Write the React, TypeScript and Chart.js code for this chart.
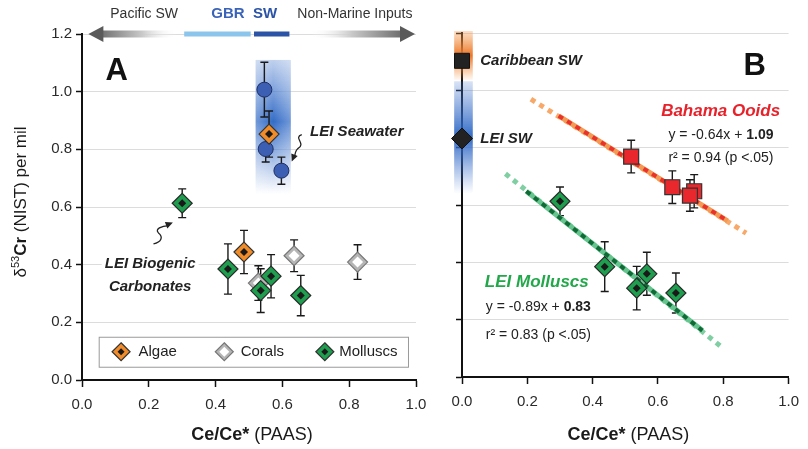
import React, { useEffect, useRef } from 'react';
import { Chart, registerables } from 'chart.js';

Chart.register(...registerables);

const FONT = '"Liberation Sans", Arial, Helvetica, sans-serif';
const W = 808;
const H = 449;

// ---------- axes ----------
const xMin = 0, xMax = 1.0, xStep = 0.2;
const yMin = 0, yMax = 1.2, yStep = 0.2;

// ---------- Panel A data ----------
const seawaterX = [0.546, 0.550, 0.597];
const seawaterY = [1.007, 0.801, 0.726];
const seawaterErr = [0.095, 0.045, 0.047];

const algaeX = [0.485, 0.560];
const algaeY = [0.444, 0.853];
const algaeErr = [0.075, 0.08];

const coralX = [0.528, 0.635, 0.825];
const coralY = [0.336, 0.431, 0.409];
const coralErr = [0.06, 0.055, 0.06];

const molluscX = [0.30, 0.437, 0.566, 0.535, 0.655];
const molluscY = [0.613, 0.385, 0.36, 0.31, 0.293];
const molluscErr = [0.05, 0.087, 0.075, 0.076, 0.07];

// top arrow bar (Ce/Ce* positions)
const pacificArrow = [0.019, 0.285];
const gbrRange = [0.306, 0.505];
const swRange = [0.515, 0.621];
const nonMarineArrow = [0.683, 0.997];
const seawaterBandX = [0.52, 0.625];
const seawaterBandY = [1.11, 0.645];

// ---------- Panel B data ----------
const caribX = [0.0];
const caribY = [1.103];
const leiSwX = [0.0];
const leiSwY = [0.832];

const ooidX = [0.518, 0.644, 0.711, 0.698];
const ooidY = [0.769, 0.662, 0.648, 0.633];
const ooidErr = [0.057, 0.057, 0.058, 0.055];

const ooidFitX = [0.211, 0.87];
const ooidFitY = [0.969, 0.502];
const ooidCoreX = [0.296, 0.813];
const ooidCoreY = [0.911, 0.545];

const mollFitX = [0.133, 0.80];
const mollFitY = [0.709, 0.10];
const mollCoreX = [0.197, 0.736];
const mollCoreY = [0.648, 0.162];

const caribBandY = [1.207, 1.035];
const leiSwBandY = [1.035, 0.639];
const bandBX = [-0.024, 0.033];

// ---------- helpers ----------
const pts = (xs: number[], ys: number[]) => xs.map((x, i) => ({ x, y: ys[i] }));

function marker(xs: number[], ys: number[], style: string, r: number, bg: string, border: string, bw: number, errors?: number[]) {
  return {
    type: 'scatter',
    data: pts(xs, ys),
    pointStyle: style,
    pointRadius: r,
    pointHoverRadius: r,
    backgroundColor: bg,
    pointBackgroundColor: bg,
    borderColor: border,
    pointBorderColor: border,
    pointBorderWidth: bw,
    borderWidth: bw,
    errors,
    clip: false,
  };
}

function lineDS(xs: number[], ys: number[], color: string, width: number, dash: number[]) {
  return {
    type: 'scatter',
    data: pts(xs, ys),
    showLine: true,
    pointRadius: 0,
    pointHoverRadius: 0,
    borderColor: color,
    borderWidth: width,
    borderDash: dash,
    borderCapStyle: 'butt',
    fill: false,
    clip: false,
  };
}

function withOrder(list: any[]) {
  return list.map((d, i) => ({ ...d, order: list.length - i }));
}

type Seg = { t: string; font: string; color?: string; dy?: number };
function drawSegs(ctx: CanvasRenderingContext2D, segs: Seg[], x: number, y: number, align: 'left' | 'center') {
  let total = 0;
  segs.forEach((s) => { ctx.font = s.font; total += ctx.measureText(s.t).width; });
  let cx = align === 'center' ? x - total / 2 : x;
  ctx.textBaseline = 'middle';
  ctx.textAlign = 'left';
  segs.forEach((s) => {
    ctx.font = s.font;
    ctx.fillStyle = s.color || '#222';
    ctx.fillText(s.t, cx, y + (s.dy || 0));
    cx += ctx.measureText(s.t).width;
  });
}

function drawDiamond(ctx: CanvasRenderingContext2D, x: number, y: number, r: number, fill: string, stroke: string | null, innerR: number, innerFill: string) {
  ctx.beginPath();
  ctx.moveTo(x, y - r); ctx.lineTo(x + r, y); ctx.lineTo(x, y + r); ctx.lineTo(x - r, y); ctx.closePath();
  ctx.fillStyle = fill; ctx.fill();
  if (stroke) { ctx.strokeStyle = stroke; ctx.lineWidth = 1.2; ctx.stroke(); }
  ctx.beginPath();
  ctx.moveTo(x, y - innerR); ctx.lineTo(x + innerR, y); ctx.lineTo(x, y + innerR); ctx.lineTo(x - innerR, y); ctx.closePath();
  ctx.fillStyle = innerFill; ctx.fill();
}

function arrowHead(ctx: CanvasRenderingContext2D, fx: number, fy: number, tx: number, ty: number, size: number) {
  const a = Math.atan2(ty - fy, tx - fx);
  ctx.beginPath();
  ctx.moveTo(tx, ty);
  ctx.lineTo(tx - size * Math.cos(a - 0.45), ty - size * Math.sin(a - 0.45));
  ctx.lineTo(tx - size * Math.cos(a + 0.45), ty - size * Math.sin(a + 0.45));
  ctx.closePath();
  ctx.fill();
}

function drawErrorBars(chart: any) {
  const ctx = chart.ctx;
  const xs = chart.scales.x, ys = chart.scales.y;
  ctx.save();
  ctx.strokeStyle = '#1a1a1a';
  ctx.lineWidth = 1.4;
  chart.data.datasets.forEach((ds: any) => {
    if (!ds.errors) return;
    ds.data.forEach((p: any, i: number) => {
      const e = ds.errors[i];
      if (!e) return;
      const x = xs.getPixelForValue(p.x);
      const y1 = ys.getPixelForValue(p.y + e);
      const y2 = ys.getPixelForValue(p.y - e);
      ctx.beginPath();
      ctx.moveTo(x, y1); ctx.lineTo(x, y2);
      ctx.moveTo(x - 4, y1); ctx.lineTo(x + 4, y1);
      ctx.moveTo(x - 4, y2); ctx.lineTo(x + 4, y2);
      ctx.stroke();
    });
  });
  ctx.restore();
}

function scales(yWidth: number, xHeight: number, showYLabels: boolean) {
  const tickFont = { family: FONT, size: 15 };
  return {
    x: {
      type: 'linear', min: xMin, max: xMax,
      afterFit: (s: any) => { s.height = xHeight; },
      ticks: { stepSize: xStep, callback: (v: any) => Number(v).toFixed(1), font: tickFont, color: '#2a2a2a', padding: 9, maxRotation: 0 },
      grid: { drawOnChartArea: false, drawTicks: true, tickLength: 7, tickColor: '#111', tickWidth: 1.5 },
      border: { display: true, color: '#111', width: 2 },
    },
    y: {
      type: 'linear', min: yMin, max: yMax,
      afterFit: (s: any) => { s.width = yWidth; },
      ticks: { display: showYLabels, stepSize: yStep, callback: (v: any) => Number(v).toFixed(1), font: tickFont, color: '#2a2a2a', padding: 4 },
      grid: { color: '#dcdcdc', lineWidth: 1, drawTicks: true, tickLength: 6, tickColor: '#111', tickWidth: 1.5 },
      border: { display: true, color: '#111', width: 2 },
    },
  };
}

function xTitle(ctx: CanvasRenderingContext2D, cx: number) {
  drawSegs(ctx, [
    { t: 'Ce/Ce*', font: `bold 18px ${FONT}`, color: '#1a1a1a' },
    { t: ' (PAAS)', font: `18px ${FONT}`, color: '#1a1a1a' },
  ], cx, 435, 'center');
}

// ---------- Panel A plugin ----------
const panelAPlugin = {
  id: 'panelA',
  beforeDatasetsDraw(chart: any) {
    const ctx = chart.ctx;
    const X = (v: number) => chart.scales.x.getPixelForValue(v);
    const Y = (v: number) => chart.scales.y.getPixelForValue(v);
    // seawater band
    const x1 = X(seawaterBandX[0]), x2 = X(seawaterBandX[1]);
    const y1 = Y(seawaterBandY[0]), y2 = Y(seawaterBandY[1]);
    ctx.save();
    const g = ctx.createLinearGradient(0, y1, 0, y2);
    g.addColorStop(0, 'rgba(70,120,205,0.35)');
    g.addColorStop(0.46, 'rgba(40,100,195,0.95)');
    g.addColorStop(1, 'rgba(70,120,205,0)');
    ctx.fillStyle = g;
    ctx.fillRect(x1, y1, x2 - x1, y2 - y1);
    const gh = ctx.createLinearGradient(x1, 0, x2, 0);
    gh.addColorStop(0, 'rgba(255,255,255,0.3)');
    gh.addColorStop(0.5, 'rgba(255,255,255,0)');
    gh.addColorStop(1, 'rgba(255,255,255,0.3)');
    ctx.fillStyle = gh;
    ctx.fillRect(x1, y1, x2 - x1, y2 - y1);
    ctx.restore();
    drawErrorBars(chart);
  },
  afterDatasetsDraw(chart: any) {
    const ctx = chart.ctx;
    const X = (v: number) => chart.scales.x.getPixelForValue(v);
    const Y = (v: number) => chart.scales.y.getPixelForValue(v);
    const area = chart.chartArea;
    ctx.save();

    // ---- top arrow bar
    const ay = Y(yMax);
    const lt = X(pacificArrow[0]), lf = X(pacificArrow[1]);
    let g = ctx.createLinearGradient(lt, 0, lf, 0);
    g.addColorStop(0, '#555');
    g.addColorStop(0.6, '#c8c8c8');
    g.addColorStop(1, 'rgba(255,255,255,0)');
    ctx.fillStyle = g;
    ctx.fillRect(lt + 12, ay - 3.5, lf - lt - 12, 7);
    ctx.fillStyle = '#5a5a5a';
    ctx.beginPath();
    ctx.moveTo(lt, ay); ctx.lineTo(lt + 15, ay - 8); ctx.lineTo(lt + 15, ay + 8); ctx.closePath(); ctx.fill();

    const rf = X(nonMarineArrow[0]), rt = X(nonMarineArrow[1]);
    g = ctx.createLinearGradient(rf, 0, rt, 0);
    g.addColorStop(0, 'rgba(255,255,255,0)');
    g.addColorStop(0.4, '#c8c8c8');
    g.addColorStop(1, '#555');
    ctx.fillStyle = g;
    ctx.fillRect(rf, ay - 3.5, rt - rf - 12, 7);
    ctx.fillStyle = '#5a5a5a';
    ctx.beginPath();
    ctx.moveTo(rt, ay); ctx.lineTo(rt - 15, ay - 8); ctx.lineTo(rt - 15, ay + 8); ctx.closePath(); ctx.fill();

    ctx.fillStyle = '#8cc5ec';
    ctx.fillRect(X(gbrRange[0]), ay - 2.5, X(gbrRange[1]) - X(gbrRange[0]), 5);
    ctx.fillStyle = '#2b54a6';
    ctx.fillRect(X(swRange[0]), ay - 2.5, X(swRange[1]) - X(swRange[0]), 5);

    const ty = area.top - 20;
    drawSegs(ctx, [{ t: 'Pacific SW', font: `14px ${FONT}`, color: '#333' }], X(0.186), ty, 'center');
    drawSegs(ctx, [{ t: 'GBR', font: `bold 15px ${FONT}`, color: '#3a64b8' }], X(0.437), ty, 'center');
    drawSegs(ctx, [{ t: 'SW', font: `bold 15px ${FONT}`, color: '#2b54a6' }], X(0.548), ty, 'center');
    drawSegs(ctx, [{ t: 'Non-Marine Inputs', font: `14px ${FONT}`, color: '#333' }], X(0.817), ty, 'center');

    // ---- panel letter
    drawSegs(ctx, [{ t: 'A', font: `bold 31px ${FONT}`, color: '#111' }], X(0.104), Y(1.07), 'center');

    // ---- LEI Seawater label + squiggle arrow
    drawSegs(ctx, [{ t: 'LEI Seawater', font: `italic bold 15px ${FONT}`, color: '#222' }], X(0.683), Y(0.859), 'left');
    ctx.strokeStyle = '#222'; ctx.fillStyle = '#222'; ctx.lineWidth = 1.3;
    let sx = X(0.658), sy = Y(0.851), ex = X(0.628), ey = Y(0.758);
    ctx.beginPath();
    ctx.moveTo(sx, sy);
    ctx.bezierCurveTo(sx - 9, sy + 3, sx + 5, sy + 9, sx - 4, sy + 14);
    ctx.quadraticCurveTo(sx - 7, sy + 17, ex + 3, ey - 4);
    ctx.stroke();
    arrowHead(ctx, sx - 6, sy + 17, ex, ey, 8);

    // ---- LEI Biogenic Carbonates label + arrow
    const bx = X(0.204);
    ctx.font = `italic bold 15px ${FONT}`;
    const bw = ctx.measureText('LEI Biogenic').width;
    ctx.fillStyle = '#fff';
    ctx.fillRect(bx - bw / 2 - 3, Y(0.402) - 9, bw + 6, 18);
    drawSegs(ctx, [{ t: 'LEI Biogenic', font: `italic bold 15px ${FONT}`, color: '#222' }], bx, Y(0.402), 'center');
    drawSegs(ctx, [{ t: 'Carbonates', font: `italic bold 15px ${FONT}`, color: '#222' }], bx, Y(0.324), 'center');
    ctx.strokeStyle = '#222'; ctx.fillStyle = '#222';
    sx = X(0.214); sy = Y(0.472); ex = X(0.272); ey = Y(0.546);
    ctx.beginPath();
    ctx.moveTo(sx, sy);
    ctx.bezierCurveTo(sx + 8, sy - 2, sx + 10, sy - 7, sx + 5, sy - 11);
    ctx.bezierCurveTo(sx + 1, sy - 15, sx + 8, sy - 18, ex - 4, ey + 3);
    ctx.stroke();
    arrowHead(ctx, sx + 8, sy - 17, ex, ey, 8);

    // ---- legend box
    const lx1 = X(0.05), lx2 = X(0.976), ly1 = Y(0.150), ly2 = Y(0.046);
    ctx.fillStyle = '#fff';
    ctx.fillRect(lx1, ly1, lx2 - lx1, ly2 - ly1);
    ctx.strokeStyle = '#9a9a9a'; ctx.lineWidth = 1;
    ctx.strokeRect(lx1 + 0.5, ly1 + 0.5, lx2 - lx1, ly2 - ly1);
    const ly = (ly1 + ly2) / 2;
    drawDiamond(ctx, X(0.117), ly, 9, '#f08c2a', '#333', 3.5, '#1a1a1a');
    drawSegs(ctx, [{ t: 'Algae', font: `15px ${FONT}`, color: '#222' }], X(0.169), ly, 'left');
    drawDiamond(ctx, X(0.426), ly, 9, '#b5b5b5', '#777', 5, '#fff');
    drawSegs(ctx, [{ t: 'Corals', font: `15px ${FONT}`, color: '#222' }], X(0.475), ly, 'left');
    drawDiamond(ctx, X(0.727), ly, 9, '#1e9e4e', '#333', 3.5, '#1a1a1a');
    drawSegs(ctx, [{ t: 'Molluscs', font: `15px ${FONT}`, color: '#222' }], X(0.77), ly, 'left');

    // ---- axis titles
    xTitle(ctx, (area.left + area.right) / 2 + 3);
    ctx.save();
    ctx.translate(21, 202);
    ctx.rotate(-Math.PI / 2);
    drawSegs(ctx, [
      { t: 'δ', font: `17px ${FONT}`, color: '#1a1a1a' },
      { t: '53', font: `11px ${FONT}`, color: '#1a1a1a', dy: -5 },
      { t: 'Cr', font: `bold 17px ${FONT}`, color: '#1a1a1a' },
      { t: ' (NIST) per mil', font: `17px ${FONT}`, color: '#1a1a1a' },
    ], 0, 0, 'center');
    ctx.restore();

    ctx.restore();
  },
};

// ---------- Panel B plugin ----------
const panelBPlugin = {
  id: 'panelB',
  beforeDatasetsDraw(chart: any) {
    const ctx = chart.ctx;
    const X = (v: number) => chart.scales.x.getPixelForValue(v);
    const Y = (v: number) => chart.scales.y.getPixelForValue(v);
    const x1 = X(bandBX[0]), x2 = X(bandBX[1]);
    ctx.save();
    let y1 = Y(caribBandY[0]), y2 = Y(caribBandY[1]);
    let g = ctx.createLinearGradient(0, y1, 0, y2);
    g.addColorStop(0, 'rgba(245,150,70,0.3)');
    g.addColorStop(0.5, 'rgba(236,118,40,1)');
    g.addColorStop(1, 'rgba(245,150,70,0.05)');
    ctx.fillStyle = g;
    ctx.fillRect(x1, y1, x2 - x1, y2 - y1);
    y1 = Y(leiSwBandY[0]); y2 = Y(leiSwBandY[1]);
    g = ctx.createLinearGradient(0, y1, 0, y2);
    g.addColorStop(0, 'rgba(70,120,205,0.2)');
    g.addColorStop(0.5, 'rgba(40,100,195,0.95)');
    g.addColorStop(1, 'rgba(70,120,205,0)');
    ctx.fillStyle = g;
    ctx.fillRect(x1, y1 + 1, x2 - x1, y2 - y1);
    ctx.restore();
    drawErrorBars(chart);
  },
  afterDraw(chart: any) {
    const ctx = chart.ctx;
    const X = (v: number) => chart.scales.x.getPixelForValue(v);
    const Y = (v: number) => chart.scales.y.getPixelForValue(v);
    const area = chart.chartArea;
    ctx.save();
    const bi = `italic bold 15px ${FONT}`;
    drawSegs(ctx, [{ t: 'Caribbean SW', font: bi, color: '#222' }], X(0.056), Y(1.103), 'left');
    drawSegs(ctx, [{ t: 'LEI SW', font: bi, color: '#222' }], X(0.056), Y(0.832), 'left');
    drawSegs(ctx, [{ t: 'B', font: `bold 31px ${FONT}`, color: '#111' }], X(0.896), Y(1.084), 'center');

    drawSegs(ctx, [{ t: 'Bahama Ooids', font: `italic bold 17px ${FONT}`, color: '#e8222a' }], X(0.792), Y(0.926), 'center');
    drawSegs(ctx, [
      { t: 'y = -0.64x + ', font: `14px ${FONT}`, color: '#222' },
      { t: '1.09', font: `bold 14px ${FONT}`, color: '#222' },
    ], X(0.632), Y(0.842), 'left');
    drawSegs(ctx, [{ t: 'r² = 0.94 (p <.05)', font: `14px ${FONT}`, color: '#222' }], X(0.632), Y(0.765), 'left');

    drawSegs(ctx, [{ t: 'LEI Molluscs', font: `italic bold 17px ${FONT}`, color: '#22a84a' }], X(0.07), Y(0.331), 'left');
    drawSegs(ctx, [
      { t: 'y = -0.89x + ', font: `14px ${FONT}`, color: '#222' },
      { t: '0.83', font: `bold 14px ${FONT}`, color: '#222' },
    ], X(0.073), Y(0.243), 'left');
    drawSegs(ctx, [{ t: 'r² = 0.83 (p <.05)', font: `14px ${FONT}`, color: '#222' }], X(0.073), Y(0.147), 'left');

    xTitle(ctx, (area.left + area.right) / 2 + 3);
    ctx.restore();
  },
};

function configA(): any {
  const datasets = withOrder([
    marker(coralX, coralY, 'rectRot', 10, '#b5b5b5', '#777', 1.2, coralErr),
    marker(coralX, coralY, 'rectRot', 5.5, '#ffffff', '#ffffff', 0),
    marker(seawaterX, seawaterY, 'circle', 7.5, '#3c5fb3', '#1f2f60', 1, seawaterErr),
    marker(algaeX, algaeY, 'rectRot', 10, '#f08c2a', '#333', 1.2, algaeErr),
    marker(algaeX, algaeY, 'rectRot', 4, '#1a1a1a', '#1a1a1a', 0),
    marker(molluscX, molluscY, 'rectRot', 10, '#1e9e4e', '#2a2a2a', 1.2, molluscErr),
    marker(molluscX, molluscY, 'rectRot', 4, '#1a1a1a', '#1a1a1a', 0),
  ]);
  return {
    type: 'scatter',
    data: { datasets },
    options: {
      responsive: false,
      animation: false,
      events: [],
      layout: { padding: { left: 0, top: 34, right: W - 416, bottom: 0 } },
      plugins: { legend: { display: false }, tooltip: { enabled: false } },
      scales: scales(82, 69, true),
    },
    plugins: [panelAPlugin],
  };
}

function configB(): any {
  const datasets = withOrder([
    lineDS(ooidFitX, ooidFitY, '#f8a868', 5, [5, 5]),
    lineDS(ooidCoreX, ooidCoreY, '#f39a55', 5, []),
    lineDS(ooidCoreX, ooidCoreY, '#e8322a', 4, [5, 5]),
    lineDS(mollFitX, mollFitY, '#7fcfa2', 5, [5, 5]),
    lineDS(mollCoreX, mollCoreY, '#66c48f', 5, []),
    lineDS(mollCoreX, mollCoreY, '#0f6a35', 4, [5, 5]),
    marker(ooidX, ooidY, 'rect', 10.6, '#e8282c', '#333', 1.2, ooidErr),
    marker(molluscX, molluscY, 'rectRot', 10, '#1e9e4e', '#2a2a2a', 1.2, molluscErr),
    marker(molluscX, molluscY, 'rectRot', 4, '#1a1a1a', '#1a1a1a', 0),
    marker(caribX, caribY, 'rect', 10.6, '#222', '#111', 1),
    marker(leiSwX, leiSwY, 'rectRot', 10.5, '#222', '#111', 1),
  ]);
  return {
    type: 'scatter',
    data: { datasets },
    options: {
      responsive: false,
      animation: false,
      events: [],
      layout: { padding: { left: 420, top: 33, right: W - 799, bottom: 0 } },
      plugins: { legend: { display: false }, tooltip: { enabled: false } },
      scales: scales(42, 72, false),
    },
    plugins: [panelBPlugin],
  };
}

export default function App() {
  const refA = useRef<HTMLCanvasElement>(null);
  const refB = useRef<HTMLCanvasElement>(null);
  useEffect(() => {
    const a = new Chart(refA.current as HTMLCanvasElement, configA());
    const b = new Chart(refB.current as HTMLCanvasElement, configB());
    return () => { a.destroy(); b.destroy(); };
  }, []);
  return (
    <div style={{ position: 'fixed', left: 0, top: 0, width: W, height: H, background: '#fff' }}>
      <canvas ref={refA} width={W} height={H} style={{ position: 'absolute', left: 0, top: 0, width: W, height: H }} />
      <canvas ref={refB} width={W} height={H} style={{ position: 'absolute', left: 0, top: 0, width: W, height: H }} />
    </div>
  );
}
